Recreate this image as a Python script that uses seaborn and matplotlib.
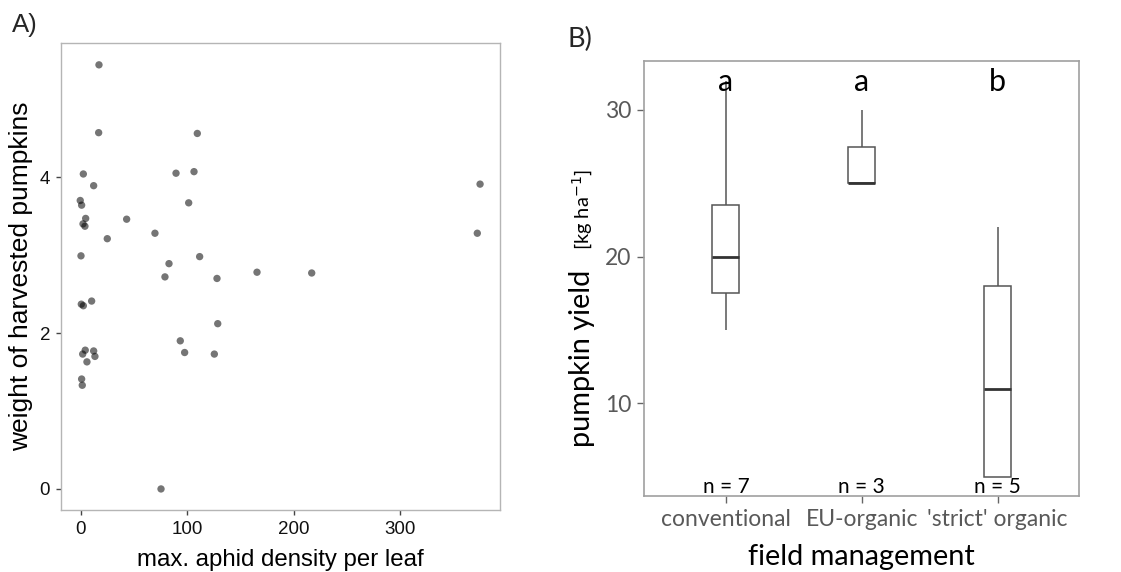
import numpy as np
import pandas as pd
import matplotlib
matplotlib.use("Agg")
import matplotlib.pyplot as plt
import matplotlib.transforms as mtransforms
import seaborn as sns

# ---------------- data ----------------
# Panel A: aphid density vs pumpkin weight
aphid_density = [17.2, 16.9, 109.6, 2.5, 89.6, 106.5, 12.2, 375.3, -0.4, 0.9,
                 101.5, 4.7, 43.2, 2.2, 4.0, 69.8, 372.7, 25.0, 0.3, 111.8,
                 83.0, 79.2, 128.1, 165.7, 217.1, 10.3, 0.6, 2.5, 128.8, 93.6,
                 97.7, 125.6, 1.9, 4.3, 12.2, 13.4, 5.9, 0.9, 1.5, 75.5]
pumpkin_weight = [5.44, 4.57, 4.56, 4.04, 4.05, 4.07, 3.89, 3.91, 3.70, 3.64,
                  3.67, 3.47, 3.46, 3.40, 3.37, 3.28, 3.28, 3.21, 2.99, 2.98,
                  2.89, 2.72, 2.70, 2.78, 2.77, 2.41, 2.37, 2.35, 2.12, 1.90,
                  1.75, 1.73, 1.73, 1.78, 1.77, 1.70, 1.63, 1.41, 1.33, 0.0]

# Panel B: pumpkin yield by field management
categories = ["conventional", "EU-organic", "'strict' organic"]
yield_conventional = [15, 17, 18, 20, 22, 25, 32]
yield_eu_organic = [25, 25, 30]
yield_strict_organic = [5, 5, 11, 18, 22]
letters = ["a", "a", "b"]

df_a = pd.DataFrame({"density": aphid_density, "weight": pumpkin_weight})
groups = [yield_conventional, yield_eu_organic, yield_strict_organic]
df_b = pd.DataFrame({
    "management": np.repeat(categories, [len(g) for g in groups]),
    "yield": np.concatenate(groups),
})

# ---------------- style ----------------
sns.set_style("white")
plt.rcParams["font.family"] = ["Liberation Sans", "DejaVu Sans"]

fig = plt.figure(figsize=(11.21, 5.72), dpi=100)

# ---------------- Panel A ----------------
axA = fig.add_axes([0.0544, 0.1084, 0.3916, 0.8164])
sns.scatterplot(data=df_a, x="density", y="weight", ax=axA, color="black",
                alpha=0.54, s=28, edgecolor="none", linewidth=0)
axA.set_xlim(-18.5, 394)
axA.set_ylim(-0.27, 5.72)
axA.set_xticks([0, 100, 200, 300])
axA.set_yticks([0, 2, 4])
for sp in axA.spines.values():
    sp.set_visible(True)
    sp.set_color("#b5b5b5")
    sp.set_linewidth(1.0)
axA.tick_params(axis="both", which="both", direction="out", length=3.8,
                width=1.0, color="#444444", labelsize=13.5, labelcolor="#111111",
                bottom=True, left=True, pad=4)
axA.set_xlabel("max. aphid density per leaf", fontsize=17.3, color="black",
               labelpad=8)
axA.set_ylabel("weight of harvested pumpkins", fontsize=19, color="black",
               labelpad=5)
fig.text(0.011, 0.944, "A)", fontsize=18.5, family=["Liberation Sans"],
         ha="left", va="baseline")

# ---------------- Panel B ----------------
lato = ["Lato", "DejaVu Sans"]
axB = fig.add_axes([0.5748, 0.1329, 0.388, 0.7605])
sns.boxplot(data=df_b, x="management", y="yield", order=categories, ax=axB,
            color="white", saturation=1, linecolor="#555555", linewidth=1.1,
            width=0.2, showcaps=False, whis=(0, 100), fliersize=0,
            medianprops={"color": "#333333", "linewidth": 2.0})
axB.set_xlim(-0.6, 2.6)
axB.set_ylim(3.68, 33.34)
axB.set_yticks([10, 20, 30])
for sp in axB.spines.values():
    sp.set_visible(True)
    sp.set_color("#a0a0a0")
    sp.set_linewidth(1.2)
axB.tick_params(axis="both", which="both", direction="out", length=5,
                width=1.0, color="#666666", labelsize=16.5, labelcolor="#595959",
                bottom=True, left=True, pad=4.5)
for lab in axB.get_xticklabels() + axB.get_yticklabels():
    lab.set_family(lato)
axB.set_xlabel("field management", fontsize=20.8, family=lato, color="black",
               labelpad=10)
axB.set_ylabel("")

# y label: main part and smaller unit part
axB.text(-0.126, 0.113, "pumpkin yield", transform=axB.transAxes, rotation=90,
         rotation_mode="anchor", ha="left", va="baseline", fontsize=20.8,
         family=lato, color="black")
axB.text(-0.126, 0.565, "[kg ha$^{-1}$]", transform=axB.transAxes, rotation=90,
         rotation_mode="anchor", ha="left", va="baseline", fontsize=14.5,
         family=lato, color="black")

# significance letters and sample sizes
blend = mtransforms.blended_transform_factory(axB.transData, axB.transAxes)
for i, (letter, g) in enumerate(zip(letters, groups)):
    axB.text(i, 31.3, letter, ha="center", va="baseline", fontsize=22,
             family=lato, color="black")
    axB.text(i, 0.008, f"n = {len(g)}", transform=blend, ha="center",
             va="baseline", fontsize=15, family=lato, color="black")

fig.text(0.506, 0.918, "B)", fontsize=19.5, family=lato, ha="left",
         va="baseline")

fig.savefig("out.png", dpi=100, facecolor="white")
